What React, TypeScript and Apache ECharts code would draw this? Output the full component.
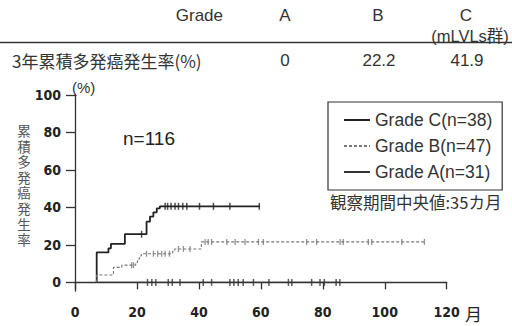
import React, { useEffect, useRef } from "react";
import * as echarts from "echarts";

// ---- data ----
const xTicks = [0, 20, 40, 60, 80, 100, 120];
const yTicks = [0, 20, 40, 60, 80, 100];

const gradeCTimes = [7, 7, 10.8, 11.6, 16.1, 23.1, 24.2, 25.3, 26.4, 27.4, 59.7];
const gradeCValues = [0, 16.0, 18.2, 20.5, 25.7, 32.4, 35.1, 37.4, 39.5, 40.6, 40.6];
const gradeCCensor = [21.5, 29.1, 29.9, 31.0, 32.3, 33.4, 34.8, 36.1, 40.2, 44.7, 50.0, 59.5];

const gradeBTimes = [7, 7, 12.4, 15.1, 19.6, 20.2, 20.8, 21.4, 31.5, 32.2, 40.8, 112.8];
const gradeBValues = [0, 3.9, 8.0, 9.2, 10.7, 12.5, 14.1, 15.3, 16.6, 17.8, 21.6, 21.6];
const gradeBCensor = [18.3, 18.9, 23.1, 25.3, 26.7, 28.0, 29.1, 30.5, 33.4, 35.0, 37.1, 42.0, 43.0, 44.1, 49.0, 51.7, 54.9, 59.2, 60.8, 74.8, 78.0, 85.6, 86.6, 94.7, 95.8, 105.5, 112.8];

const gradeATimes = [7, 85.5];
const gradeAValues = [0, 0];
const gradeACensor = [23.4, 24.8, 26.1, 30.1, 31.4, 33.9, 41.4, 44.1, 50.0, 51.3, 52.7, 54.3, 57.6, 62.6, 68.9, 70.0, 76.4, 79.1, 80.5, 84.3, 85.5];

const legendNames = ["Grade C(n=38)", "Grade B(n=47)", "Grade A(n=31)"];
const tableHeaderLabel = "Grade";
const tableGrades = ["A", "B", "C"];
const tableGradeNote = "(mLVLs群)";
const tableRowLabel = "3年累積多発癌発生率(%)";
const tableValues = ["0", "22.2", "41.9"];
const yAxisName = "累積多発癌発生率";
const sampleText = "n=116";
const medianText = "観察期間中央値:35カ月";
const xUnit = "月";
const yUnit = "(%)";

function stepAt(times: number[], values: number[], t: number) {
  let v = values[0];
  for (let i = 0; i < times.length; i++) if (times[i] <= t) v = values[i];
  return v;
}
const zip = (t: number[], v: number[]) => t.map((x, i) => [x, v[i]]);
const censorPts = (c: number[], t: number[], v: number[]) => c.map((x) => [x, stepAt(t, v, x)]);

const LATIN = "'Liberation Sans', Arial, sans-serif";
const CJK = "'Noto Sans CJK JP', 'Noto Sans', sans-serif";
const NARROW = "'DejaVu Sans Condensed', 'Liberation Sans', sans-serif";

export default function App() {
  const ref = useRef<HTMLDivElement>(null);
  useEffect(() => {
    if (!ref.current) return;
    const chart = echarts.init(ref.current, undefined, { renderer: "svg" });
    const colC = "#222";
    const colB = "#777";
    const colA = "#333";
    const colX = [0, 1, 2];
    const tableX = [285, 378, 466];
    const yChars = yAxisName.split("");
    chart.setOption({
      animation: false,
      backgroundColor: "#fff",
      grid: { left: 75, right: 65.3, top: 95, bottom: 35, containLabel: false, outerBoundsMode: "none" },
      xAxis: {
        type: "value",
        min: 0,
        max: 120,
        axisLine: { lineStyle: { color: "#333", width: 1.3 } },
        axisTick: { customValues: xTicks, length: 7, lineStyle: { color: "#333", width: 1.3 } },
        axisLabel: { customValues: xTicks, margin: 14, fontFamily: NARROW, fontWeight: "bold", fontSize: 14, color: "#222" },
        splitLine: { show: false },
      },
      yAxis: {
        type: "value",
        min: -4.6,
        max: 100,
        axisLine: { show: true, lineStyle: { color: "#333", width: 1.3 } },
        axisTick: { show: true, customValues: yTicks, length: 9, lineStyle: { color: "#333", width: 1.3 } },
        axisLabel: { customValues: yTicks, margin: 14, fontFamily: NARROW, fontWeight: "bold", fontSize: 14, color: "#222" },
        splitLine: { show: false },
      },
      legend: {
        data: legendNames,
        orient: "vertical",
        left: 328,
        top: 102,
        padding: [9, 10, 9, 15],
        itemGap: 8,
        itemWidth: 26,
        itemHeight: 14,
        borderColor: "#333",
        borderWidth: 1.2,
        itemStyle: { opacity: 0 },
        textStyle: { fontFamily: LATIN, fontSize: 17.5, color: "#333" },
      },
      series: [
        { name: legendNames[0], type: "line", step: "end", symbol: "none", data: zip(gradeCTimes, gradeCValues), lineStyle: { color: colC, width: 1.8 }, itemStyle: { color: colC } },
        { name: legendNames[1], type: "line", step: "end", symbol: "none", data: zip(gradeBTimes, gradeBValues), lineStyle: { color: colB, width: 1.1, type: [3, 2] }, itemStyle: { color: colB } },
        { name: legendNames[2], type: "line", step: "end", symbol: "none", data: zip(gradeATimes, gradeAValues), lineStyle: { color: colA, width: 1.4 }, itemStyle: { color: colA } },
        { name: "cC", type: "scatter", symbol: "rect", symbolSize: [1.5, 7], data: censorPts(gradeCCensor, gradeCTimes, gradeCValues), itemStyle: { color: colC }, silent: true },
        { name: "cB", type: "scatter", symbol: "rect", symbolSize: [1.3, 6], data: censorPts(gradeBCensor, gradeBTimes, gradeBValues), itemStyle: { color: colB }, silent: true },
        { name: "cA", type: "scatter", symbol: "rect", symbolSize: [1.5, 7], data: censorPts(gradeACensor, gradeATimes, gradeAValues), itemStyle: { color: colA }, silent: true },
      ],
      graphic: [
        { type: "text", x: 223, y: 15, style: { text: tableHeaderLabel, font: `17px ${LATIN}`, fill: "#333", align: "right", verticalAlign: "middle" } },
        ...colX.map((i) => ({ type: "text", x: tableX[i], y: 15, style: { text: tableGrades[i], font: `17px ${LATIN}`, fill: "#333", align: "center", verticalAlign: "middle" } })),
        { type: "text", x: 470, y: 36, style: { text: tableGradeNote, font: `16.5px ${LATIN}, ${CJK}`, fill: "#333", align: "center", verticalAlign: "middle" } },
        { type: "line", shape: { x1: 0, y1: 42.5, x2: 512, y2: 42.5 }, style: { stroke: "#333", lineWidth: 1.5 } },
        { type: "text", x: 12, y: 60, style: { text: tableRowLabel, font: `17px ${CJK}`, fill: "#333", align: "left", verticalAlign: "middle" } },
        ...colX.map((i) => ({ type: "text", x: tableX[i] + (i ? 1 : 0), y: 60, style: { text: tableValues[i], font: `17px ${LATIN}`, fill: "#333", align: "center", verticalAlign: "middle" } })),
        { type: "text", x: 72, y: 87, style: { text: yUnit, font: `15px ${LATIN}`, fill: "#333", align: "left", verticalAlign: "middle" } },
        ...yChars.map((ch, i) => ({ type: "text", x: 24, y: 130 + i * 15.6, style: { text: ch, font: `13.5px ${CJK}`, lineHeight: 14, fill: "#555", align: "center", verticalAlign: "middle" } })),
        { type: "text", x: 123, y: 138, style: { text: sampleText, font: `19px ${LATIN}`, fill: "#222", align: "left", verticalAlign: "middle" } },
        { type: "text", x: 330, y: 202, style: { text: medianText, font: `16.5px ${CJK}`, fill: "#333", align: "left", verticalAlign: "middle" } },
        { type: "text", x: 465, y: 313, style: { text: xUnit, font: `17px ${CJK}`, fill: "#222", align: "left", verticalAlign: "middle" } },
      ],
    });
    return () => chart.dispose();
  }, []);
  return <div ref={ref} style={{ position: "absolute", left: 0, top: 0, width: 512, height: 326 }} />;
}
